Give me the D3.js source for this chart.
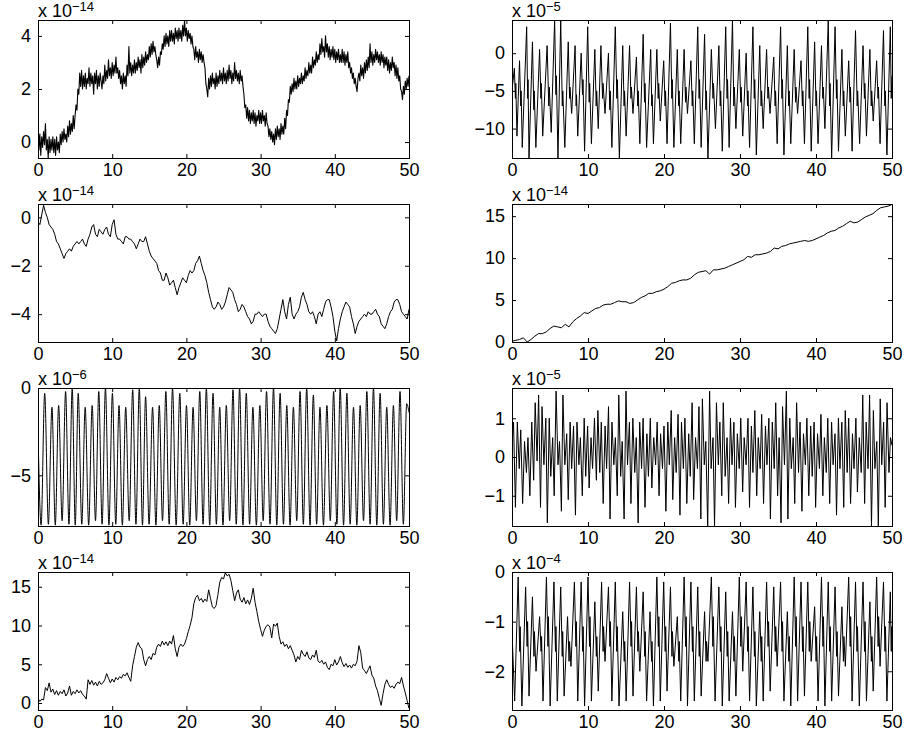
<!DOCTYPE html>
<html>
<head>
<meta charset="utf-8">
<script src="https://cdn.jsdelivr.net/npm/d3@7"></script>
<style>
  body { margin: 0; background: #fff; }
  svg { display: block; background: #fff; }
</style>
</head>
<body>
<svg id="fig" width="912" height="731"></svg>
<script>
// ---- data (values in units of the panel's x 10^n factor) ----
const X_TICKS = [0, 10, 20, 30, 40, 50];
const STEP_DENSE = 0.125; // sample spacing of the very noisy series
const STEP_FINE = 0.25;   // sample spacing of the other random-walk series
const STEP_SMOOTH = 0.5;  // sample spacing of the smooth drift series

// left, row 1 (x 10^-14), one line per unit of x
const walkA = [
  1.0, -0.3, 0.3, -0.5, 0.2, -0.2, 0.4, -0.1,
  0.7, -0.3, 0.1, -0.6, 0.2, -0.4, 0.1, -0.3,
  0.2, -0.4, 0.1, -0.5, 0.2, -0.3, 0.0, -0.4,
  0.3, -0.1, 0.4, 0.0, 0.5, 0.1, 0.3, 0.0,
  0.6, 0.2, 0.8, 0.3, 0.7, 0.4, 1.0, 0.5,
  1.0, 1.4, 1.2, 2.0, 1.8, 2.6, 2.1, 2.7,
  2.0, 2.5, 2.1, 2.6, 2.0, 2.4, 2.2, 2.8,
  2.1, 2.6, 2.2, 2.5, 1.8, 2.6, 2.2, 2.7,
  2.0, 2.5, 2.1, 2.6, 2.3, 2.0, 2.5, 2.2,
  2.9, 2.3, 2.7, 2.4, 3.1, 2.5, 2.8, 2.4,
  3.0, 2.5, 2.9, 2.6, 3.2, 2.6, 2.8, 2.4,
  2.7, 2.2, 2.5, 2.0, 2.6, 2.2, 2.5, 2.1,
  2.9, 2.5, 3.6, 2.6, 3.0, 2.5, 2.9, 2.6,
  3.1, 2.6, 3.0, 2.7, 3.2, 2.8, 3.1, 2.6,
  3.3, 2.8, 3.2, 2.9, 3.4, 3.0, 3.3, 3.1,
  3.6, 3.2, 3.7, 3.3, 3.8, 3.4, 3.6, 3.3,
  3.1, 2.8, 3.2, 2.9, 3.4, 3.3, 3.7, 3.5,
  4.0, 3.6, 4.1, 3.7, 4.0, 3.6, 4.2, 3.8,
  4.2, 3.8, 4.1, 3.7, 4.3, 3.9, 4.2, 3.8,
  4.3, 3.9, 4.2, 3.8, 4.4, 4.0, 4.6, 4.0,
  4.3, 3.8, 4.2, 3.9, 4.1, 3.7, 4.0, 3.6,
  3.5, 3.1, 3.6, 3.2, 3.4, 3.0, 3.5, 3.1,
  3.4, 3.0, 3.3, 3.0, 2.8, 2.2, 2.0, 1.7,
  2.4, 2.0, 2.5, 2.1, 2.6, 2.2, 2.4, 2.0,
  2.6, 2.1, 2.5, 2.2, 2.7, 2.3, 2.6, 2.2,
  2.8, 2.3, 2.6, 2.2, 2.7, 2.3, 2.9, 2.4,
  2.7, 2.2, 2.6, 2.3, 3.0, 2.4, 2.7, 2.3,
  2.6, 2.2, 2.7, 2.3, 2.5, 2.1, 1.8, 1.3,
  1.4, 0.9, 1.3, 0.8, 1.2, 0.7, 1.1, 0.8,
  1.2, 0.7, 1.1, 0.6, 1.0, 0.8, 1.2, 0.7,
  1.1, 0.7, 1.2, 0.8, 1.0, 0.6, 1.1, 0.7,
  0.6, 0.2, 0.5, 0.1, 0.4, 0.0, 0.3, -0.1,
  0.5, 0.1, 0.6, 0.2, 0.5, 0.1, 0.7, 0.3,
  0.6, 0.3, 0.9, 0.5, 1.2, 1.0, 1.6, 1.5,
  2.1, 1.8, 2.2, 1.9, 2.4, 2.0, 2.3, 2.0,
  2.5, 2.1, 2.4, 2.2, 2.6, 2.2, 2.5, 2.3,
  2.8, 2.4, 2.7, 2.5, 3.0, 2.6, 2.9, 2.6,
  3.2, 2.8, 3.1, 2.9, 3.4, 3.0, 3.3, 3.1,
  3.7, 3.3, 3.9, 3.4, 3.6, 3.2, 4.0, 3.4,
  3.7, 3.2, 3.6, 3.1, 3.5, 3.2, 3.6, 3.1,
  3.5, 3.0, 3.4, 3.1, 3.5, 3.0, 3.3, 3.0,
  3.5, 3.0, 3.4, 2.9, 3.3, 3.0, 3.4, 2.8,
  3.0, 2.6, 2.8, 2.4, 2.6, 2.2, 2.4, 2.1,
  1.9, 2.4, 2.6, 2.3, 2.9, 2.5, 2.8, 2.4,
  3.0, 2.6, 3.1, 2.7, 3.2, 2.8, 3.7, 3.0,
  3.4, 2.9, 3.3, 3.0, 3.5, 3.1, 3.4, 3.0,
  3.3, 2.9, 3.4, 3.0, 3.3, 2.8, 3.2, 2.9,
  3.2, 2.7, 3.1, 2.6, 3.0, 2.7, 3.2, 2.8,
  3.0, 2.5, 2.9, 2.4, 2.8, 2.3, 2.5, 2.0,
  1.9, 1.6, 2.1, 1.8, 2.3, 2.0, 2.4, 2.1,
  2.5
];

// left, row 2 (x 10^-14)
const walkB = [
  -0.2, -0.3, 0.1, 0.5, 0.2, 0.0, -0.3, -0.4, -0.5, -0.7,
  -1.0, -1.1, -1.3, -1.5, -1.7, -1.5, -1.4, -1.3, -1.4, -1.2,
  -1.1, -1.0, -1.1, -1.0, -0.9, -1.1, -1.2, -0.9, -0.7, -0.4,
  -0.3, -0.7, -0.8, -0.5, -0.6, -0.7, -0.5, -0.4, -0.7, -0.8,
  -0.3, -0.1, -0.7, -0.9, -0.9, -1.0, -1.1, -0.8, -0.8, -0.9,
  -0.9, -1.0, -1.1, -1.3, -1.1, -0.9, -1.0, -1.0, -0.8, -1.1,
  -1.4, -1.6, -1.7, -1.8, -1.9, -2.2, -2.3, -2.6, -2.6, -2.3,
  -2.5, -2.8, -2.7, -2.6, -2.9, -3.2, -2.9, -2.7, -2.5, -2.6,
  -2.7, -2.4, -2.2, -2.3, -2.2, -1.9, -1.8, -1.6, -1.9, -2.2,
  -2.4, -2.7, -3.1, -3.4, -3.7, -3.8, -3.7, -3.5, -3.6, -3.8,
  -3.7, -3.5, -3.2, -2.9, -3.0, -3.1, -3.4, -3.6, -3.9, -3.8,
  -3.6, -3.7, -3.9, -4.1, -4.2, -4.4, -4.3, -4.0, -4.0, -3.9,
  -4.0, -4.1, -4.0, -4.0, -4.3, -4.5, -4.6, -4.7, -4.8, -4.6,
  -4.2, -3.8, -3.4, -3.9, -4.2, -3.6, -3.3, -4.0, -4.2, -4.0,
  -3.9, -3.7, -3.3, -3.1, -3.4, -3.6, -3.9, -4.0, -3.9, -4.1,
  -4.4, -4.0, -3.9, -4.1, -3.8, -3.5, -3.4, -3.4, -3.7, -4.1,
  -4.7, -5.1, -4.6, -4.2, -3.9, -3.7, -3.5, -3.6, -3.7, -4.1,
  -4.4, -4.8, -4.5, -4.3, -4.2, -4.1, -4.0, -4.1, -3.9, -4.0,
  -4.0, -3.9, -3.8, -4.0, -4.1, -4.4, -4.5, -4.6, -4.4, -4.1,
  -3.9, -3.8, -3.5, -3.4, -3.4, -3.6, -3.9, -4.0, -4.1, -4.2,
  -3.8
];

// left, row 4 (x 10^-14)
const walkC = [
  0.6, 0.2, 0.5, 0.4, 2.0, 1.6, 2.6, 1.4, 1.8, 1.1,
  1.6, 1.0, 1.5, 1.2, 1.7, 0.9, 1.3, 2.2, 1.0, 1.5,
  1.2, 1.7, 1.3, 1.6, 1.1, 0.9, 0.5, 3.0, 2.4, 2.9,
  2.3, 2.7, 2.2, 2.8, 2.4, 2.6, 3.0, 3.8, 3.2, 2.6,
  3.1, 2.7, 3.3, 3.0, 3.4, 3.2, 3.7, 3.5, 3.9, 3.3,
  2.8, 4.8, 6.0, 7.2, 7.8, 7.2, 7.0, 5.6, 4.8, 5.6,
  6.0, 5.6, 6.4, 6.2, 7.2, 7.6, 7.3, 8.0, 7.5, 7.9,
  7.4, 8.0, 7.6, 8.7, 7.0, 6.0, 7.2, 7.6, 7.3, 7.6,
  8.3, 9.2, 10.0, 11.0, 12.8, 13.6, 13.9, 13.2, 13.5, 13.0,
  13.4, 13.1, 14.6, 13.5, 12.4, 12.2, 12.6, 14.0, 15.6, 16.2,
  16.0, 16.8, 16.4, 16.6, 15.8, 14.5, 13.2, 14.2, 14.6, 13.4,
  13.0, 13.6, 12.8, 13.3, 12.7, 13.5, 14.8, 13.0, 11.8, 10.5,
  9.5, 8.6, 9.4, 9.9, 10.1, 9.8, 8.4, 10.2, 9.9, 10.3,
  8.6, 7.6, 7.9, 7.3, 7.6, 7.0, 7.4, 6.8, 6.2, 5.3,
  6.0, 5.6, 6.8, 6.3, 6.0, 6.6, 5.8, 5.6, 6.2, 5.9,
  6.8, 5.4, 5.2, 5.5, 5.0, 5.3, 4.6, 4.3, 5.0, 4.8,
  5.6, 4.9, 5.3, 6.0, 5.2, 4.7, 5.1, 4.6, 4.9, 4.5,
  5.0, 4.8, 5.4, 7.4, 6.5, 4.5, 4.2, 3.8, 4.3, 4.8,
  3.6, 3.2, 2.2, 1.6, 0.6, -0.3, 1.2, 2.4, 3.0, 2.4,
  2.0, 2.2, 1.9, 2.4, 2.7, 2.5, 3.3, 2.2, 1.3, 0.3,
  -0.7
];

// right, row 2 (x 10^-14)
const drift = [
  0.1, 0.2, 0.3, 0.5, 0.0, 0.3, 0.7, 1.0, 1.0, 1.2,
  1.6, 1.9, 1.8, 1.7, 2.1, 1.8, 2.4, 2.8, 3.1, 3.5,
  3.4, 3.7, 4.0, 4.1, 4.4, 4.5, 4.5, 4.7, 4.9, 4.8,
  4.8, 4.6, 4.7, 5.0, 5.3, 5.5, 5.8, 5.8, 6.0, 6.1,
  6.3, 6.6, 7.0, 7.1, 7.3, 7.4, 7.4, 7.6, 8.0, 8.3,
  8.4, 8.5, 8.1, 8.6, 8.6, 8.7, 8.8, 9.0, 9.2, 9.4,
  9.6, 9.8, 10.2, 10.1, 10.4, 10.4, 10.5, 10.6, 10.8, 11.2,
  11.1, 11.4, 11.5, 11.7, 11.8, 11.9, 12.0, 12.1, 12.0, 12.1,
  12.3, 12.5, 12.7, 13.0, 13.2, 13.3, 13.6, 13.8, 14.1, 14.4,
  14.2, 14.3, 14.6, 14.9, 15.1, 15.3, 15.7, 16.0, 16.1, 16.2,
  16.4
];

// left, row 3 (x 10^-6): wave extremes
const waveAPeakT = [
  0.90, 1.88, 2.78, 3.72, 4.61, 5.42, 6.36, 7.30, 8.19, 9.09,
  10.03, 10.92, 11.82, 12.76, 13.65, 14.50, 15.44, 16.34, 17.23, 18.13,
  19.11, 20.01, 20.90, 21.80, 22.69, 23.59, 24.49, 25.38, 26.28, 27.17,
  28.07, 28.96, 29.90, 30.80, 31.74, 32.63, 33.53, 34.42, 35.32, 36.21,
  37.11, 38.00, 38.94, 39.84, 40.73, 41.63, 42.52, 43.42, 44.32, 45.21,
  46.11, 47.00, 47.90, 48.79, 49.69
];
const waveAPeakV = [
  -0.3, -1.1, -1.0, -0.2, 0.0, -0.3, -1.1, -1.0, -0.2, 0.0,
  -0.3, -1.0, -1.1, -0.1, 0.0, -0.5, -1.1, -1.0, -0.2, 0.0,
  -0.3, -1.0, -1.1, -0.2, 0.0, -0.3, -1.1, -1.0, -0.1, 0.0,
  -0.3, -1.1, -1.0, -0.2, 0.0, -0.3, -1.0, -1.1, -0.2, 0.0,
  -0.4, -1.1, -1.0, -0.2, 0.0, -0.3, -1.1, -1.0, -0.2, 0.0,
  -0.3, -1.1, -1.0, -0.2, -0.9
];
const waveATroughT = [
  0.00, 0.42, 1.40, 2.33, 3.25, 4.17, 5.02, 5.90, 6.83, 7.75, 8.64,
  9.56, 10.48, 11.37, 12.29, 13.20, 14.08, 14.97, 15.89, 16.78, 17.68,
  18.62, 19.56, 20.45, 21.35, 22.25, 23.14, 24.04, 24.93, 25.83, 26.72,
  27.62, 28.52, 29.43, 30.35, 31.27, 32.18, 33.08, 33.97, 34.87, 35.76,
  36.66, 37.55, 38.47, 39.39, 40.28, 41.18, 42.07, 42.97, 43.87, 44.76,
  45.66, 46.55, 47.45, 48.34, 49.24, 50.00
];
const waveATroughV = [
  -2.5, -7.85, -7.8, -7.85, -7.6, -7.8, -7.85, -7.8, -7.85, -7.6, -7.8,
  -7.85, -7.8, -7.85, -7.6, -7.8, -7.85, -7.8, -7.85, -7.6, -7.8,
  -7.85, -7.8, -7.85, -7.6, -7.8, -7.85, -7.8, -7.85, -7.6, -7.8,
  -7.85, -7.8, -7.85, -7.6, -7.8, -7.85, -7.8, -7.85, -7.6, -7.8,
  -7.85, -7.8, -7.85, -7.6, -7.8, -7.85, -7.8, -7.85, -7.6, -7.8,
  -7.85, -7.8, -7.85, -7.6, -7.8, -1.4
];

// right, row 1 (x 10^-5): wave extremes plus the small kinks on the falling legs
const waveBPeakT = [
  0.31, 0.99, 1.93, 2.69, 3.63, 4.62, 5.61, 6.41, 7.40, 8.30,
  9.10, 9.96, 10.90, 11.70, 12.69, 13.59, 14.57, 15.47, 16.37, 17.26,
  18.25, 19.06, 19.96, 20.85, 21.75, 22.65, 23.54, 24.44, 25.34, 26.23,
  27.22, 28.12, 29.01, 29.91, 30.81, 31.70, 32.60, 33.50, 34.44, 35.34,
  36.23, 37.13, 38.03, 38.92, 39.82, 40.72, 41.61, 42.51, 43.41, 44.30,
  45.20, 46.19, 47.09, 47.98, 48.88, 49.78
];
const waveBPeakV = [
  -2, -1, 3.5, 1.5, 0.5, 1, 4.4, 4.4, 1.5, 1,
  0, 3.5, 0.5, 1, 0, 3.5, 1, 1, -0.5, 2.5,
  0.5, 0.5, -1, 4, 0.5, 0.5, -1, 3.5, 2.5, 0.5,
  1, 3.5, 4.4, 0.5, 0, 3.5, 1, 0.5, -0.5, 3.5,
  1, 0.5, -1, 3.5, 1.5, 1, 4.4, 3.5, 0.5, -1,
  3, 1, 0.5, -1, 3, 3.5
];
const waveBTroughT = [
  0.00, 0.65, 1.35, 2.24, 3.14, 4.04, 5.16, 6.05, 6.95, 7.85, 8.65,
  9.55, 10.45, 11.35, 12.24, 13.14, 14.13, 15.02, 15.92, 16.82, 17.71,
  18.61, 19.51, 20.40, 21.30, 22.20, 23.09, 23.99, 24.89, 25.78, 26.77,
  27.67, 28.57, 29.46, 30.36, 31.26, 32.15, 33.05, 33.95, 34.89, 35.78,
  36.68, 37.58, 38.48, 39.37, 40.27, 41.17, 42.06, 42.96, 43.86, 44.75,
  45.74, 46.64, 47.53, 48.43, 49.33, 50.00
];
const waveBTroughV = [
  -5, -11, -12.5, -13.9, -12.5, -11, -10.5, -13.9, -12.5, -8, -11,
  -13, -12, -10, -8, -12.5, -13.9, -11, -8, -12, -12.5,
  -12, -9, -12, -12.5, -12, -8, -12, -12.5, -13.9, -10,
  -13, -12.5, -10, -11, -12.5, -13.5, -10, -8, -12, -13.5,
  -12, -8, -12, -13, -12, -10, -13.9, -13, -11, -13,
  -12, -11, -9, -12, -13.5, -3
];
const waveBKinks = [
  0.45,-6, 0.5,-4, 1.15,-7, 1.2,-5, 2.06,-6, 2.11,-3.5, 2.87,-7.5, 2.93,-5,
  3.8,-6, 3.86,-4, 4.84,-7, 4.91,-4.5, 5.78,-5.5, 5.84,-3, 6.62,-7, 6.68,-5,
  7.58,-6, 7.63,-4.5, 8.44,-7, 8.49,-5.5, 9.28,-5.5, 9.34,-3.5, 10.16,-6.5, 10.22,-4,
  11.08,-7, 11.14,-5, 11.92,-6, 11.98,-4, 12.87,-7.5, 12.93,-5, 13.8,-6, 13.86,-3.5,
  14.75,-7, 14.81,-5, 15.65,-6, 15.71,-4.5, 16.55,-7, 16.61,-5, 17.44,-6.5, 17.5,-4,
  18.39,-7, 18.44,-5.5, 19.24,-6, 19.3,-4, 20.14,-7, 20.2,-5, 21.03,-6, 21.09,-3.5,
  21.93,-7, 21.99,-5, 22.83,-6.5, 22.89,-4.5, 23.72,-7, 23.78,-5, 24.62,-6, 24.68,-3.5,
  25.52,-7.5, 25.58,-5, 26.45,-6, 26.51,-4, 27.4,-7, 27.46,-5, 28.3,-6, 28.36,-3.5,
  29.19,-7, 29.25,-4.5, 30.09,-6.5, 30.15,-4.5, 30.99,-7, 31.05,-5, 31.88,-6, 31.94,-3.5,
  32.78,-7, 32.84,-5, 33.68,-6, 33.74,-4.5, 34.62,-7, 34.68,-5, 35.52,-6, 35.58,-3.5,
  36.41,-7, 36.47,-5, 37.31,-6.5, 37.37,-4.5, 38.21,-7, 38.27,-5, 39.1,-6, 39.16,-3.5,
  40.0,-7, 40.06,-5, 40.9,-6, 40.96,-4.5, 41.79,-7, 41.85,-4, 42.69,-6, 42.75,-3.5,
  43.59,-7, 43.65,-5, 44.48,-6.5, 44.54,-4.5, 45.42,-7, 45.48,-5, 46.37,-6, 46.43,-4,
  47.27,-7, 47.33,-5, 48.16,-6, 48.22,-4.5, 49.06,-7, 49.12,-5, 49.9,-6, 49.95,-4
];

// right, row 3 (x 10^-5): t, value pairs
const waveC = [
  0,0.3, 0.2,0.9, 0.45,-1.3, 0.7,0.9, 0.95,-0.3, 1.15,0.7, 1.4,-1.2, 1.65,0.4, 1.9,-0.4, 2.1,0.5,
  2.35,-1.0, 2.6,0.9, 2.85,-0.6, 3.05,1.4, 3.3,-0.1, 3.5,1.6, 3.75,-1.3, 3.95,1.3, 4.2,-0.2, 4.45,1.0,
  4.65,-1.7, 4.9,1.0, 5.1,-0.5, 5.35,0.5, 5.55,-1.0, 5.8,1.7, 6.05,-0.2, 6.25,0.4, 6.5,-1.4, 6.7,1.6,
  6.95,-0.2, 7.2,0.6, 7.4,-1.1, 7.65,0.9, 7.85,-0.3, 8.1,0.8, 8.35,-1.5, 8.55,0.9, 8.8,-0.2, 9.0,0.5,
  9.25,-1.0, 9.5,1.0, 9.7,-0.5, 9.95,0.8, 10.15,-0.8, 10.4,0.5, 10.6,-0.3, 10.85,1.0, 11.1,-0.6, 11.3,1.2,
  11.55,-0.4, 11.75,0.9, 12.0,-1.2, 12.25,0.8, 12.45,-0.3, 12.7,1.3, 12.9,-1.6, 13.15,0.9, 13.4,-0.2, 13.6,0.5,
  13.85,-1.0, 14.05,1.6, 14.3,-0.5, 14.5,0.4, 14.75,-1.6, 15.0,1.7, 15.2,-0.2, 15.45,0.9, 15.65,-1.2, 15.9,1.0,
  16.15,-0.4, 16.35,0.5, 16.6,-1.7, 16.8,0.9, 17.05,-0.3, 17.25,1.0, 17.5,-1.3, 17.75,0.6, 17.95,-0.5, 18.2,1.0,
  18.4,-0.8, 18.65,0.5, 18.9,-0.2, 19.1,0.9, 19.35,-1.0, 19.55,0.6, 19.8,-0.3, 20.0,0.8, 20.25,-1.4, 20.5,0.9,
  20.7,-0.2, 20.95,1.2, 21.15,-1.1, 21.4,0.5, 21.6,-0.4, 21.85,1.1, 22.1,-1.5, 22.3,0.9, 22.55,-0.3, 22.75,1.0,
  23.0,-1.2, 23.25,0.6, 23.45,-0.5, 23.7,1.4, 23.9,-1.1, 24.15,0.5, 24.4,-0.3, 24.6,1.3, 24.85,-1.6, 25.05,1.5,
  25.3,-0.2, 25.5,0.4, 25.75,-1.8, 26.0,1.7, 26.2,-0.3, 26.45,0.5, 26.65,-1.8, 26.9,1.4, 27.15,-0.2, 27.35,0.9,
  27.6,-1.0, 27.8,1.4, 28.05,-0.5, 28.3,0.5, 28.5,-1.2, 28.75,1.0, 28.95,-0.2, 29.2,0.9, 29.4,-1.3, 29.65,0.6,
  29.9,-0.3, 30.1,1.0, 30.35,-0.9, 30.55,0.5, 30.8,-0.2, 31.05,1.0, 31.25,-1.3, 31.5,0.8, 31.7,-0.4, 31.95,1.2,
  32.2,-1.0, 32.4,0.5, 32.65,-0.3, 32.85,1.1, 33.1,-1.2, 33.35,0.8, 33.55,-0.2, 33.8,1.0, 34.0,-1.6, 34.25,0.9,
  34.5,-0.3, 34.7,1.4, 34.95,-1.0, 35.15,0.5, 35.4,-1.7, 35.6,1.3, 35.85,-0.2, 36.1,1.7, 36.3,-1.6, 36.55,1.0,
  36.75,-0.3, 37.0,0.5, 37.2,-1.2, 37.45,1.4, 37.7,-0.4, 37.9,0.9, 38.15,-1.4, 38.35,0.6, 38.6,-0.2, 38.8,1.0,
  39.05,-1.0, 39.3,0.8, 39.5,-0.5, 39.75,0.9, 39.95,-1.3, 40.2,0.6, 40.45,-0.3, 40.65,1.1, 40.9,-1.0, 41.1,0.5,
  41.35,-0.4, 41.55,1.0, 41.8,-1.2, 42.05,0.9, 42.25,-0.2, 42.5,0.6, 42.7,-1.5, 42.95,1.0, 43.15,-0.3, 43.4,0.9,
  43.65,-1.3, 43.85,1.2, 44.1,-0.4, 44.3,1.0, 44.55,-1.2, 44.8,0.6, 45.0,-0.3, 45.25,1.0, 45.45,-0.9, 45.7,0.5,
  45.95,-0.4, 46.15,1.6, 46.4,-1.2, 46.6,0.9, 46.85,-0.3, 47.05,1.6, 47.3,-1.8, 47.55,1.2, 47.75,-0.3, 48.0,0.4,
  48.2,-1.8, 48.45,1.5, 48.65,-0.2, 48.9,0.9, 49.1,-1.3, 49.35,1.4, 49.6,-0.4, 49.8,0.5, 50.0,0.3
];

// right, row 4 (x 10^-4): wave extremes plus the small kinks on the falling legs
const waveDPeakT = [
  0.81, 1.79, 2.69, 3.63, 4.53, 5.52, 6.41, 7.31, 8.21, 9.10,
  10.00, 10.90, 11.79, 12.69, 13.59, 14.57, 15.47, 16.37, 17.26, 18.16,
  19.06, 19.96, 20.85, 21.75, 22.65, 23.54, 24.44, 25.34, 26.23, 27.22,
  28.12, 29.01, 29.91, 30.81, 31.70, 32.60, 33.50, 34.44, 35.34, 36.23,
  37.13, 38.03, 38.92, 39.82, 40.72, 41.61, 42.51, 43.41, 44.30, 45.20,
  46.19, 47.09, 47.98, 48.88, 49.78
];
const waveDPeakV = [
  -0.1, -0.3, -0.5, -0.9, -0.1, -0.2, -0.3, -0.9, -0.2, -0.2,
  -0.1, -0.6, -0.2, -0.3, -0.2, -0.8, -0.2, -0.3, -0.4, -0.8,
  -0.1, -0.2, -0.3, -0.9, -0.1, -0.2, -0.3, -0.8, -0.1, -0.3,
  -0.4, -0.8, -0.1, -0.2, -0.3, -0.8, -0.2, -0.3, -0.2, -0.8,
  -0.1, -0.2, -0.2, -0.7, -0.1, -0.2, -0.3, -0.7, -0.1, -0.2,
  -0.2, -0.6, -0.1, -0.2, -0.4
];
const waveDTroughT = [
  0.00, 0.35, 1.30, 2.24, 3.16, 4.08, 5.02, 5.96, 6.86, 7.76, 8.65,
  9.55, 10.45, 11.35, 12.24, 13.14, 14.08, 15.02, 15.92, 16.82, 17.71,
  18.61, 19.51, 20.40, 21.30, 22.20, 23.09, 23.99, 24.89, 25.78, 26.72,
  27.67, 28.57, 29.46, 30.36, 31.26, 32.15, 33.05, 33.97, 34.89, 35.78,
  36.68, 37.58, 38.48, 39.37, 40.27, 41.17, 42.06, 42.96, 43.86, 44.75,
  45.70, 46.64, 47.53, 48.43, 49.33, 50.00
];
const waveDTroughV = [
  -1.2, -2.6, -2.7, -2.5, -2.0, -2.6, -2.7, -2.6, -2.5, -1.9, -2.6,
  -2.7, -2.6, -2.4, -1.8, -2.6, -2.7, -2.6, -2.5, -2.0, -2.6,
  -2.7, -2.6, -2.4, -1.9, -2.6, -2.7, -2.6, -2.5, -1.8, -2.6,
  -2.7, -2.6, -2.5, -2.0, -2.6, -2.7, -2.6, -2.4, -1.9, -2.6,
  -2.7, -2.6, -2.5, -1.8, -2.6, -2.7, -2.6, -2.5, -1.9, -2.6,
  -2.7, -2.6, -2.4, -1.9, -2.6, -1.2
];
const waveDKinks = [
  1.01,-1.6, 1.07,-1.1, 1.99,-1.5, 2.05,-1.0, 2.89,-1.7, 2.95,-1.2, 3.83,-1.6, 3.89,-1.3,
  4.73,-1.5, 4.79,-0.9, 5.72,-1.6, 5.78,-1.1, 6.61,-1.7, 6.67,-1.2, 7.51,-1.8, 7.57,-1.4,
  8.41,-1.5, 8.47,-1.0, 9.30,-1.6, 9.36,-1.1, 10.20,-1.5, 10.26,-0.9, 11.10,-1.7, 11.16,-1.3,
  11.99,-1.6, 12.05,-1.1, 12.89,-1.5, 12.95,-1.0, 13.79,-1.6, 13.85,-1.1, 14.77,-1.8, 14.83,-1.4,
  15.67,-1.5, 15.73,-1.0, 16.57,-1.6, 16.63,-1.2, 17.46,-1.7, 17.52,-1.2, 18.36,-1.8, 18.42,-1.4,
  19.26,-1.5, 19.32,-0.9, 20.16,-1.6, 20.22,-1.1, 21.05,-1.7, 21.11,-1.2, 21.95,-1.8, 22.01,-1.4,
  22.85,-1.5, 22.91,-0.9, 23.74,-1.6, 23.80,-1.1, 24.64,-1.7, 24.70,-1.2, 25.54,-1.8, 25.60,-1.4,
  26.43,-1.5, 26.49,-0.9, 27.42,-1.6, 27.48,-1.1, 28.32,-1.7, 28.38,-1.2, 29.21,-1.8, 29.27,-1.3,
  30.11,-1.5, 30.17,-0.9, 31.01,-1.6, 31.07,-1.1, 31.90,-1.7, 31.96,-1.2, 32.80,-1.8, 32.86,-1.3,
  33.70,-1.5, 33.76,-1.0, 34.64,-1.6, 34.70,-1.1, 35.54,-1.6, 35.60,-1.0, 36.43,-1.8, 36.49,-1.3,
  37.33,-1.5, 37.39,-0.9, 38.23,-1.6, 38.29,-1.1, 39.12,-1.6, 39.18,-1.0, 40.02,-1.8, 40.08,-1.3,
  40.92,-1.5, 40.98,-0.9, 41.81,-1.6, 41.87,-1.1, 42.71,-1.7, 42.77,-1.2, 43.61,-1.8, 43.67,-1.3,
  44.50,-1.5, 44.56,-0.9, 45.40,-1.6, 45.46,-1.1, 46.39,-1.6, 46.45,-1.0, 47.29,-1.8, 47.35,-1.3,
  48.18,-1.5, 48.24,-0.9, 49.08,-1.6, 49.14,-1.1, 49.90,-1.6, 49.95,-1.1
];

// ---- helpers that turn the arrays into [t, v] point lists ----
const evenly = (vals, step) => vals.map((v, i) => [i * step, v]);
const pairs = flat => d3.range(0, flat.length, 2).map(i => [flat[i], flat[i + 1]]);
const zipTV = (ts, vs) => ts.map((t, i) => [t, vs[i]]);
const merged = (...lists) => [].concat(...lists).sort((a, b) => a[0] - b[0]);

// ---- figure layout ----
const COL_X = [38, 512];
const COL_W = [371, 380];
const ROW_Y = [20, 204, 388, 572];
const BOX_H = 138;
const TICK = 4;
const FONT = "'Liberation Sans', Arial, Helvetica, sans-serif";
const fmt = d3.format("d");

const panels = [
  {col: 0, row: 0, exp: "−14", y: [-0.6, 4.6], ticks: [0, 2, 4],
   pts: evenly(walkA, STEP_DENSE), width: 1.1},
  {col: 1, row: 0, exp: "−5", y: [-13.9, 4.4], ticks: [-10, -5, 0],
   pts: merged(zipTV(waveBPeakT, waveBPeakV), zipTV(waveBTroughT, waveBTroughV), pairs(waveBKinks))},
  {col: 0, row: 1, exp: "−14", y: [-5.15, 0.55], ticks: [-4, -2, 0], pts: evenly(walkB, STEP_FINE)},
  {col: 1, row: 1, exp: "−14", y: [0, 16.45], ticks: [0, 5, 10, 15], pts: evenly(drift, STEP_SMOOTH)},
  {col: 0, row: 2, exp: "−6", y: [-7.9, 0], ticks: [-5, 0],
   pts: merged(zipTV(waveAPeakT, waveAPeakV), zipTV(waveATroughT, waveATroughV)), curve: d3.curveMonotoneX},
  {col: 1, row: 2, exp: "−5", y: [-1.78, 1.78], ticks: [-1, 0, 1], pts: pairs(waveC)},
  {col: 0, row: 3, exp: "−14", y: [-0.9, 16.9], ticks: [0, 5, 10, 15], pts: evenly(walkC, STEP_FINE)},
  {col: 1, row: 3, exp: "−4", y: [-2.78, 0], ticks: [-2, -1, 0],
   pts: merged(zipTV(waveDPeakT, waveDPeakV), zipTV(waveDTroughT, waveDTroughV), pairs(waveDKinks))}
];

const svg = d3.select("#fig");
svg.append("rect").attr("width", 912).attr("height", 731).attr("fill", "#fff");

panels.forEach((p, idx) => drawPanel(p, idx));

function drawPanel(p, idx) {
  const w = COL_W[p.col];
  const g = svg.append("g")
    .attr("transform", `translate(${COL_X[p.col]},${ROW_Y[p.row]})`);
  const x = d3.scaleLinear().domain([0, 50]).range([0, w]);
  const y = d3.scaleLinear().domain(p.y).range([BOX_H, 0]);

  const clipId = `clip${idx}`;
  g.append("clipPath").attr("id", clipId)
    .append("rect").attr("width", w).attr("height", BOX_H);

  const line = d3.line()
    .x(d => x(d[0]))
    .y(d => y(d[1]))
    .curve(p.curve || d3.curveLinear);

  g.append("path")
    .datum(p.pts)
    .attr("clip-path", `url(#${clipId})`)
    .attr("fill", "none")
    .attr("stroke", "#000")
    .attr("stroke-width", p.width || 1)
    .attr("stroke-linejoin", "round")
    .attr("d", line);

  const style = sel => {
    sel.select(".domain").remove();
    sel.selectAll("line").attr("stroke", "#000").attr("stroke-width", 1);
    sel.attr("font-size", 18).attr("font-family", FONT);
    sel.selectAll("text").attr("fill", "#000");
  };

  g.append("g").attr("transform", `translate(0,${BOX_H})`)
    .call(d3.axisBottom(x).tickValues(X_TICKS).tickSize(-TICK).tickPadding(5).tickFormat(fmt))
    .call(style);
  g.append("g")
    .call(d3.axisTop(x).tickValues(X_TICKS).tickSize(-TICK).tickFormat(""))
    .call(style);
  g.append("g")
    .call(d3.axisLeft(y).tickValues(p.ticks).tickSize(-TICK).tickPadding(7).tickFormat(fmt))
    .call(style);
  g.append("g").attr("transform", `translate(${w},0)`)
    .call(d3.axisRight(y).tickValues(p.ticks).tickSize(-TICK).tickFormat(""))
    .call(style);

  g.append("rect")
    .attr("width", w).attr("height", BOX_H)
    .attr("fill", "none").attr("stroke", "#000").attr("stroke-width", 1)
    .attr("shape-rendering", "crispEdges");

  const lbl = g.append("text")
    .attr("x", 0).attr("y", -3)
    .attr("font-family", FONT).attr("font-size", 18).attr("fill", "#000")
    .text("x 10");
  lbl.append("tspan")
    .attr("dy", -6).attr("font-size", 13)
    .text(p.exp);
}
</script>
</body>
</html>
